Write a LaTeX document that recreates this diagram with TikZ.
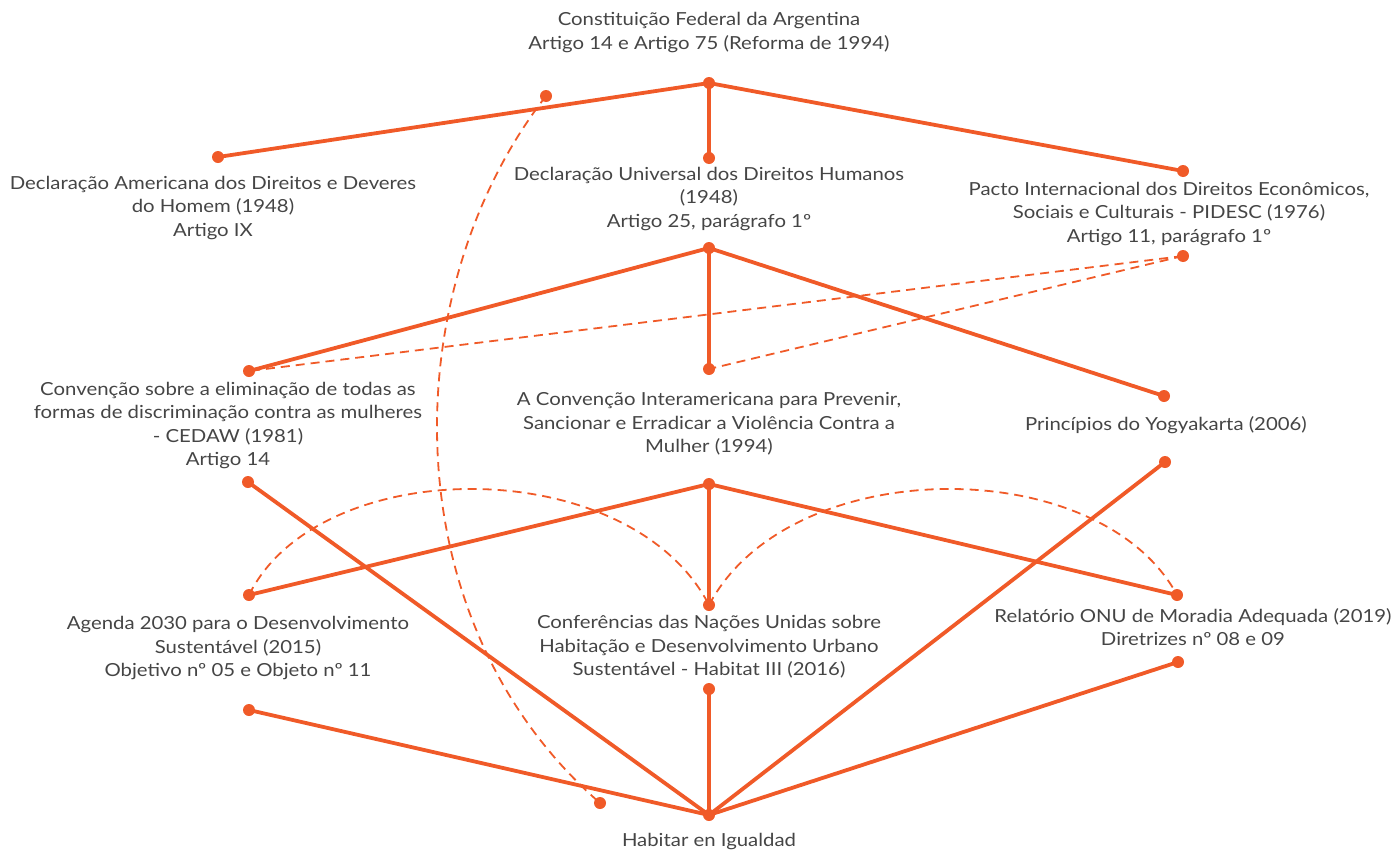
\documentclass[tikz,border=0pt]{standalone}
\usepackage{fontspec}
\setmainfont{Lato}[FakeStretch=1.13]
\definecolor{org}{HTML}{F05A28}
\definecolor{txt}{HTML}{454545}
\begin{document}
\begin{tikzpicture}[x=1pt,y=-1pt,
  lbl/.style={align=center,text=txt,font=\fontsize{18}{23.5}\selectfont,inner sep=0pt},
  dot/.style={circle,fill=org,minimum size=12pt,inner sep=0pt},
  solid line/.style={draw=org,line width=3.8pt},
  dash line/.style={draw=org,line width=1.8pt,dash pattern=on 9pt off 6pt}]
\useasboundingbox (0,0) rectangle (1392,849);
% labels
\node[lbl] (tC) at (709,32.5) {Constituição Federal da Argentina\\Artigo 14 e Artigo 75 (Reforma de 1994)};
\node[lbl] (tDA) at (213,208) {Declaração Americana dos Direitos e Deveres\\do Homem (1948)\\Artigo IX};
\node[lbl] (tDU) at (709,199) {Declaração Universal dos Direitos Humanos\\(1948)\\Artigo 25, parágrafo 1º};
\node[lbl] (tPI) at (1169,214) {Pacto Internacional dos Direitos Econômicos,\\Sociais e Culturais - PIDESC (1976)\\Artigo 11, parágrafo 1º};
\node[lbl] (tCE) at (228,425.5) {Convenção sobre a eliminação de todas as\\formas de discriminação contra as mulheres\\- CEDAW (1981)\\Artigo 14};
\node[lbl] (tCI) at (709,424) {A Convenção Interamericana para Prevenir,\\Sancionar e Erradicar a Violência Contra a\\Mulher (1994)};
\node[lbl] (tYO) at (1166,425) {Princípios do Yogyakarta (2006)};
\node[lbl] (tAG) at (238,648) {Agenda 2030 para o Desenvolvimento\\Sustentável (2015)\\Objetivo nº 05 e Objeto nº 11};
\node[lbl] (tHA) at (709,647) {Conferências das Nações Unidas sobre\\Habitação e Desenvolvimento Urbano\\Sustentável - Habitat III (2016)};
\node[lbl] (tRE) at (1193,627) {Relatório ONU de Moradia Adequada (2019)\\Diretrizes nº 08 e 09};
\node[lbl] (tH) at (709,842) {Habitar en Igualdad};
% dots
\node[dot] (C) at (709,83) {};
\node[dot] (DA) at (218,157) {};
\node[dot] (DUt) at (709,158) {};
\node[dot] (PIt) at (1183,171) {};
\node[dot] (DUb) at (709,248) {};
\node[dot] (PIb) at (1183,256) {};
\node[dot] (CEt) at (249,371) {};
\node[dot] (CIt) at (709,369) {};
\node[dot] (YOt) at (1164,396) {};
\node[dot] (CEb) at (248,482) {};
\node[dot] (CIb) at (709,484) {};
\node[dot] (YOb) at (1165,462) {};
\node[dot] (AGt) at (249,595) {};
\node[dot] (HAt) at (709,605) {};
\node[dot] (REt) at (1177,595) {};
\node[dot] (AGb) at (249,710) {};
\node[dot] (HAb) at (709,689) {};
\node[dot] (REb) at (1178,662) {};
\node[dot] (H) at (709,815) {};
\node[dot] (Xa) at (546,96) {};
\node[dot] (Xb) at (600,803) {};
% dashed connectors
\draw[dash line] (PIb.center) -- (CEt.center);
\draw[dash line] (PIb.center) -- (CIt.center);
\draw[dash line] (AGt.center) .. controls (320,452) and (630,452) .. (HAt.center);
\draw[dash line] (HAt.center) .. controls (790,452) and (1100,452) .. (REt.center);
\draw[dash line] (Xa.center) .. controls (395,290) and (390,620) .. (Xb.center);
% solid connectors
\draw[solid line] (C.center) -- (DA.center);
\draw[solid line] (C.center) -- (DUt.center);
\draw[solid line] (C.center) -- (PIt.center);
\draw[solid line] (DUb.center) -- (CEt.center);
\draw[solid line] (DUb.center) -- (CIt.center);
\draw[solid line] (DUb.center) -- (YOt.center);
\draw[solid line] (CIb.center) -- (AGt.center);
\draw[solid line] (CIb.center) -- (HAt.center);
\draw[solid line] (CIb.center) -- (REt.center);
\draw[solid line] (CEb.center) -- (H.center);
\draw[solid line] (YOb.center) -- (H.center);
\draw[solid line] (AGb.center) -- (H.center);
\draw[solid line] (HAb.center) -- (H.center);
\draw[solid line] (REb.center) -- (H.center);
\end{tikzpicture}
\end{document}
